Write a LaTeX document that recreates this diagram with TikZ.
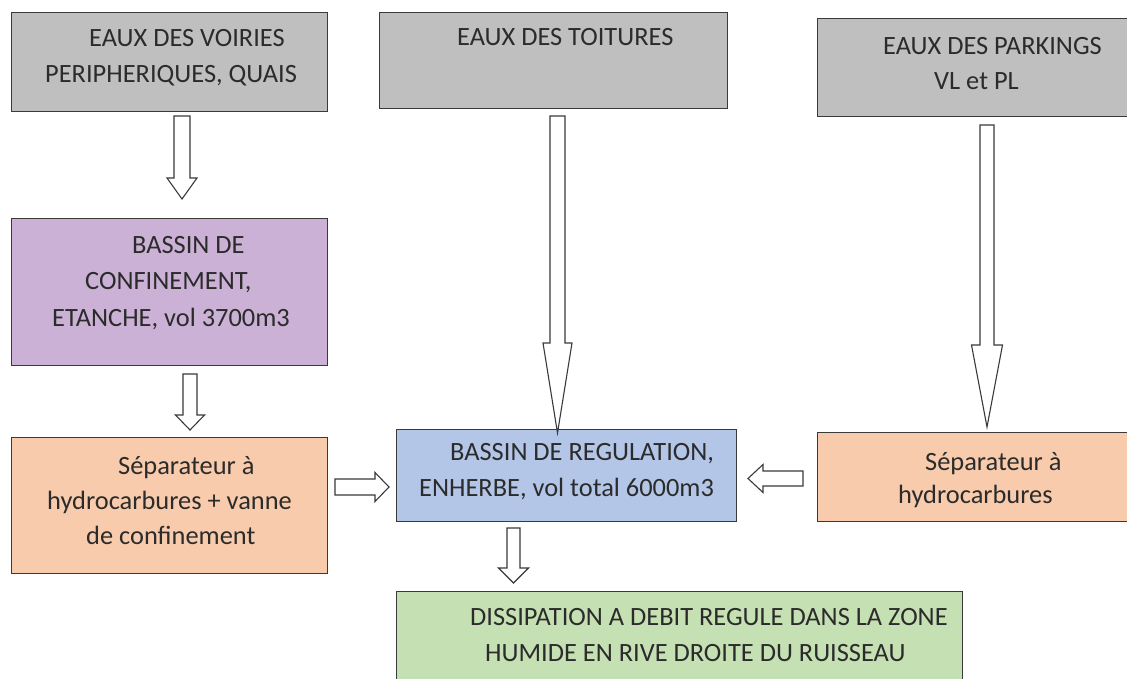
\documentclass[tikz,border=0pt]{standalone}
\usepackage{fontspec}
\setmainfont{Carlito}
\definecolor{grayfill}{HTML}{BFBFBF}
\definecolor{purplefill}{HTML}{CCB1D6}
\definecolor{orangefill}{HTML}{F7CBAC}
\definecolor{bluefill}{HTML}{B4C6E7}
\definecolor{greenfill}{HTML}{C5E0B3}
\definecolor{boxline}{HTML}{3A3A3A}
\definecolor{txtcol}{HTML}{2B2B2B}
\newcommand\myDownArrow[6]{% cx, top, headstart, tip, shaft half, head half
  \draw[blockarrow] ({#1-#5},#2) -- ({#1+#5},#2) -- ({#1+#5},#3) -- ({#1+#6},#3)
    -- (#1,#4) -- ({#1-#6},#3) -- ({#1-#5},#3) -- cycle;}
\newcommand\myHorArrow[6]{% cy, tail x, headstart x, tip x, shaft half, head half
  \draw[blockarrow] (#2,{#1-#5}) -- (#3,{#1-#5}) -- (#3,{#1-#6}) -- (#4,#1)
    -- (#3,{#1+#6}) -- (#3,{#1+#5}) -- (#2,{#1+#5}) -- cycle;}
\begin{document}
\begin{tikzpicture}[x=1pt,y=-1pt,
  box/.style={draw=boxline, line width=1.2pt, anchor=north west, inner sep=0pt},
  txt/.style={anchor=base west, inner sep=0pt, font=\fontsize{26.4}{30}\selectfont, text=txtcol},
  blockarrow/.style={draw=boxline, fill=white, line width=1.1pt, line join=miter}]
\useasboundingbox (0,0) rectangle (1127,678);
\fill[white] (0,0) rectangle (1127,678);
% boxes
\node[box, fill=grayfill, minimum width=316pt, minimum height=99pt] (voiries) at (11,12) {};
\node[box, fill=grayfill, minimum width=348pt, minimum height=96pt] (toitures) at (379,12) {};
\node[box, fill=grayfill, minimum width=330pt, minimum height=98pt] (parkings) at (817,18) {};
\node[box, fill=purplefill, minimum width=316pt, minimum height=147pt] (confinement) at (11,218) {};
\node[box, fill=orangefill, minimum width=316pt, minimum height=136pt] (sepleft) at (11,437) {};
\node[box, fill=bluefill, minimum width=340pt, minimum height=92pt] (regulation) at (396,429) {};
\node[box, fill=orangefill, minimum width=330pt, minimum height=89pt] (sepright) at (817,432) {};
\node[box, fill=greenfill, minimum width=566pt, minimum height=100pt] (dissipation) at (396,591) {};
% texts
\node[txt] (t1a) at (89,46) {EAUX DES VOIRIES};
\node[txt] (t1b) at (45,82) {PERIPHERIQUES, QUAIS};
\node[txt] (t2a) at (457,45) {EAUX DES TOITURES};
\node[txt] (t3a) at (883,54) {EAUX DES PARKINGS};
\node[txt] (t3b) at (934,89) {VL et PL};
\node[txt] (t4a) at (132,253) {BASSIN DE};
\node[txt] (t4b) at (85,289) {CONFINEMENT,};
\node[txt] (t4c) at (52,326) {ETANCHE, vol 3700m3};
\node[txt] (t5a) at (118,474) {Séparateur à};
\node[txt] (t5b) at (47,509) {hydrocarbures + vanne};
\node[txt] (t5c) at (86,544) {de confinement};
\node[txt] (t6a) at (450,460) {BASSIN DE REGULATION,};
\node[txt] (t6b) at (419,496) {ENHERBE, vol total 6000m3};
\node[txt] (t7a) at (925,470) {Séparateur à};
\node[txt] (t7b) at (898,503) {hydrocarbures};
\node[txt] (t8a) at (470,625) {DISSIPATION A DEBIT REGULE DANS LA ZONE};
\node[txt] (t8b) at (485,661) {HUMIDE EN RIVE DROITE DU RUISSEAU};
% block arrows
\myDownArrow{182}{116}{178}{199}{8}{15}
\myDownArrow{557.5}{116}{343}{433}{7.5}{14.5}
\myDownArrow{987}{125}{345}{427}{7}{15.5}
\myDownArrow{190}{374}{415}{430}{7}{14.5}
\myHorArrow{487}{335}{375}{389}{8}{14.5}
\myHorArrow{478.5}{803}{763}{748}{7.5}{14}
\myDownArrow{513.5}{528}{568}{583}{6.5}{15}
\end{tikzpicture}
\end{document}
